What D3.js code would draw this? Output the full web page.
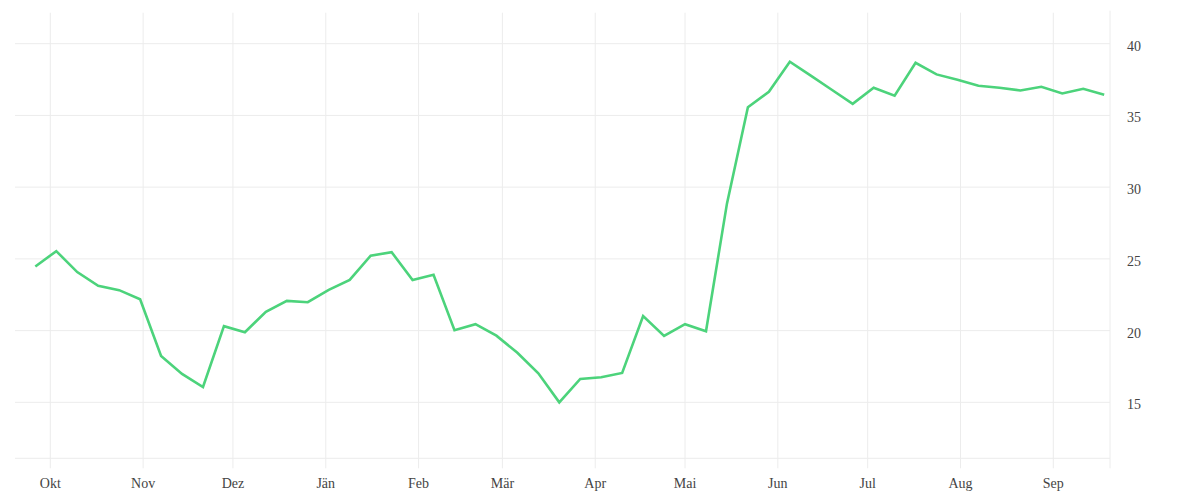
<!DOCTYPE html>
<html>
<head>
<meta charset="utf-8">
<script src="https://cdn.jsdelivr.net/npm/d3@7"></script>
<style>
  body { margin: 0; background: #fff; }
  svg text { font-family: "Liberation Serif", "DejaVu Serif", serif; }
</style>
</head>
<body>
<div id="chart"></div>
<script>
// weekly values
var dates = [
  "2022-09-26","2022-10-03","2022-10-10","2022-10-17","2022-10-24","2022-10-31",
  "2022-11-07","2022-11-14","2022-11-21","2022-11-28","2022-12-05","2022-12-12",
  "2022-12-19","2022-12-26","2023-01-02","2023-01-09","2023-01-16","2023-01-23",
  "2023-01-30","2023-02-06","2023-02-13","2023-02-20","2023-02-27","2023-03-06",
  "2023-03-13","2023-03-20","2023-03-27","2023-04-03","2023-04-10","2023-04-17",
  "2023-04-24","2023-05-01","2023-05-08","2023-05-15","2023-05-22","2023-05-29",
  "2023-06-05","2023-06-12","2023-06-19","2023-06-26","2023-07-03","2023-07-10",
  "2023-07-17","2023-07-24","2023-07-31","2023-08-07","2023-08-14","2023-08-21",
  "2023-08-28","2023-09-04","2023-09-11","2023-09-18"
];
var values = [
  24.47, 25.54, 24.08, 23.12, 22.82, 22.19,
  18.23, 16.98, 16.07, 20.31, 19.89, 21.31,
  22.07, 21.98, 22.84, 23.54, 25.22, 25.47,
  23.52, 23.89, 20.03, 20.45, 19.65, 18.46,
  17.03, 15.00, 16.63, 16.75, 17.05, 21.01,
  19.63, 20.45, 19.96, 28.85, 35.57, 36.65,
  38.74, 37.77, 36.79, 35.81, 36.93, 36.37,
  38.67, 37.86, 37.49, 37.07, 36.93, 36.74,
  37.00, 36.53, 36.86, 36.44
];
var monthTicks = ["2022-10-01","2022-11-01","2022-12-01","2023-01-01","2023-02-01","2023-03-01",
  "2023-04-01","2023-05-01","2023-06-01","2023-07-01","2023-08-01","2023-09-01"];
var monthLabels = ["Okt","Nov","Dez","Jän","Feb","Mär","Apr","Mai","Jun","Jul","Aug","Sep"];
var yTicks = [15, 20, 25, 30, 35, 40];

var parse = d3.timeParse("%Y-%m-%d");
var data = dates.map(function(d, i) { return {date: parse(d), value: values[i]}; });
var tickDates = monthTicks.map(parse);

var width = 1200, height = 500;
var plotLeft = 15, plotRight = 1110, plotTop = 12.7, plotBottom = 458.3;

var svg = d3.select("#chart")
  .append("svg")
  .attr("width", width)
  .attr("height", height);

var x = d3.scaleTime()
  .domain([tickDates[0], tickDates[tickDates.length - 1]])
  .range([50.3, 1053.3]);

var y = d3.scaleLinear()
  .domain([11.1, 42.16])
  .range([plotBottom, plotTop]);

// horizontal grid
svg.append("g")
  .selectAll("line")
  .data(yTicks)
  .enter()
  .append("line")
  .attr("x1", plotLeft)
  .attr("x2", plotRight)
  .attr("y1", function(d) { return y(d); })
  .attr("y2", function(d) { return y(d); })
  .style("stroke", "#ececec")
  .style("stroke-width", 1);

// bottom line
svg.append("line")
  .attr("x1", plotLeft).attr("x2", plotRight)
  .attr("y1", plotBottom).attr("y2", plotBottom)
  .style("stroke", "#ececec");

// vertical grid + ticks
svg.append("g")
  .selectAll("line")
  .data(tickDates)
  .enter()
  .append("line")
  .attr("x1", function(d) { return x(d); })
  .attr("x2", function(d) { return x(d); })
  .attr("y1", plotTop)
  .attr("y2", plotBottom + 10)
  .style("stroke", "#ececec")
  .style("stroke-width", 1);

// right axis line
svg.append("line")
  .attr("x1", plotRight).attr("x2", plotRight)
  .attr("y1", plotTop - 2).attr("y2", plotBottom + 10)
  .style("stroke", "#ececec");

// x labels
svg.append("g")
  .selectAll("text")
  .data(tickDates)
  .enter()
  .append("text")
  .attr("x", function(d) { return x(d); })
  .attr("y", 488)
  .attr("text-anchor", "middle")
  .style("font-size", "14px")
  .style("fill", "#444")
  .text(function(d, i) { return monthLabels[i]; });

// y labels
svg.append("g")
  .selectAll("text")
  .data(yTicks)
  .enter()
  .append("text")
  .attr("x", 1127)
  .attr("y", function(d) { return y(d) + 7; })
  .attr("text-anchor", "start")
  .style("font-size", "14px")
  .style("fill", "#444")
  .text(function(d) { return d; });

// line
var line = d3.line()
  .x(function(d) { return x(d.date); })
  .y(function(d) { return y(d.value); });

svg.append("path")
  .datum(data)
  .attr("d", line)
  .style("fill", "none")
  .style("stroke", "#4cd37b")
  .style("stroke-width", 2.6)
  .style("stroke-linejoin", "miter");
</script>
</body>
</html>
